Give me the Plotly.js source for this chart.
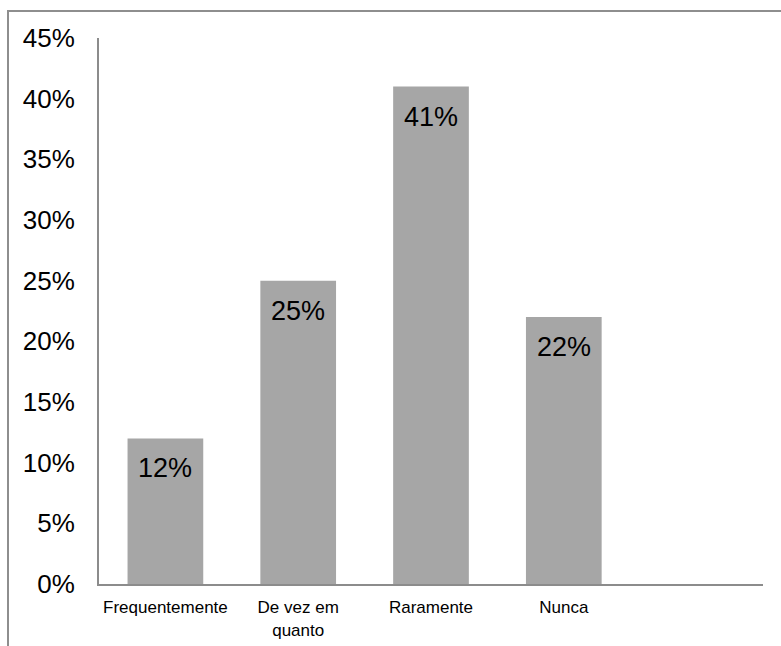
<!DOCTYPE html>
<html>
<head>
<meta charset="utf-8">
<script src="https://cdn.plot.ly/plotly-3.0.1.min.js"></script>
<style>
  html, body { margin: 0; padding: 0; background: #fff; }
  #wrap { position: relative; width: 781px; height: 646px; }
  #chart { width: 781px; height: 646px; }
  #frame {
    position: absolute; left: 7px; top: 10px; right: -10px; bottom: -10px;
    border-left: 2px solid #8e8e8e; border-top: 2px solid #8e8e8e;
    pointer-events: none;
  }
</style>
</head>
<body>
<div id="wrap">
  <div id="chart"></div>
  <div id="frame"></div>
</div>
<script>
// Answer categories (the last slot is left empty on the axis)
const categories = ['Frequentemente', 'De vez em<br>quanto', 'Raramente', 'Nunca', ' '];
const shares = [0.12, 0.25, 0.41, 0.22, null];
const labels = ['12%', '25%', '41%', '22%', ''];

const font = 'Liberation Sans, Arial, sans-serif';

const trace = {
  type: 'bar',
  x: categories,
  y: shares,
  marker: { color: '#a6a6a6' },
  hoverinfo: 'skip'
};

// Value labels sit just below the top of each bar
const annotations = [];
categories.forEach((c, i) => {
  if (shares[i] == null) return;
  annotations.push({
    x: c, y: shares[i], xref: 'x', yref: 'y',
    text: labels[i], showarrow: false,
    yanchor: 'top', yshift: -13,
    font: { family: font, size: 27, color: '#000' }
  });
});

const layout = {
  width: 781, height: 646,
  margin: { l: 99, r: 18, t: 38, b: 62 },
  paper_bgcolor: '#fff', plot_bgcolor: '#fff',
  showlegend: false,
  bargap: 0.43,
  xaxis: {
    type: 'category',
    range: [-0.5, 4.5],
    showline: true, linecolor: '#8c8c8c', linewidth: 2,
    ticks: '', showgrid: false, zeroline: false,
    tickfont: { family: font, size: 17, color: '#000' },
    ticklabelstandoff: 7
  },
  yaxis: {
    range: [0, 0.45],
    dtick: 0.05, tick0: 0,
    tickformat: '.0%',
    showline: true, linecolor: '#8c8c8c', linewidth: 2,
    ticks: '', showgrid: false, zeroline: false,
    tickfont: { family: font, size: 26, color: '#000' },
    ticklabelstandoff: 17
  },
  annotations: annotations
};

Plotly.newPlot('chart', [trace], layout, { staticPlot: true, displayModeBar: false });
</script>
</body>
</html>
